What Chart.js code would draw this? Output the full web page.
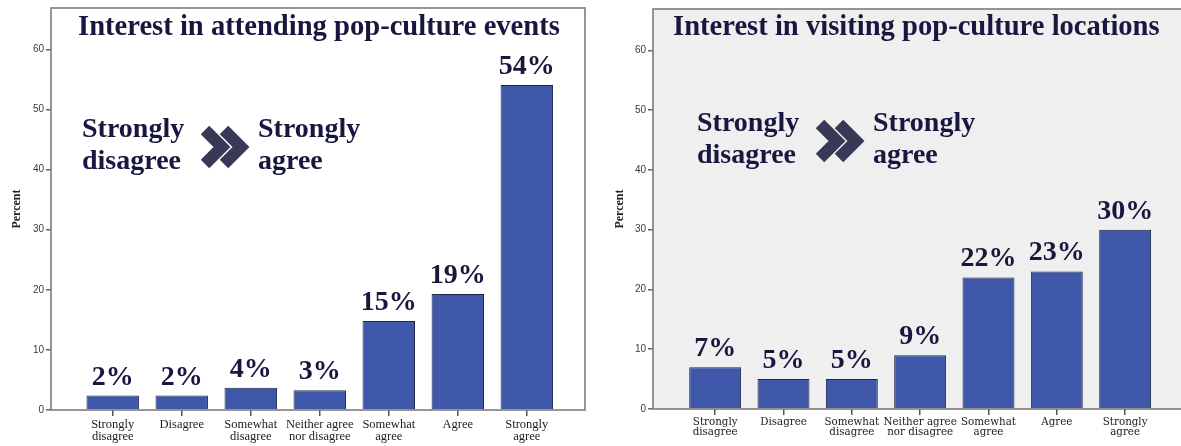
<!DOCTYPE html>
<html>
<head>
<meta charset="utf-8">
<script src="https://cdn.jsdelivr.net/npm/chart.js@4.4.1/dist/chart.umd.min.js"></script>
<style>
  html, body { margin: 0; padding: 0; background: #fff; overflow: hidden; width: 1181px; height: 446px; }
  .panel { position: absolute; top: 0; height: 446px; }
  #panelA { left: 0; width: 590px; }
  #panelB { left: 590px; width: 600px; }
</style>
</head>
<body>
<div class="panel" id="panelA"><canvas id="chartA"></canvas></div>
<div class="panel" id="panelB"><canvas id="chartB"></canvas></div>
<script>
// Answer categories, shared by both charts
const categories = [
  ['Strongly', 'disagree'], 'Disagree', ['Somewhat', 'disagree'],
  ['Neither agree', 'nor disagree'], ['Somewhat', 'agree'], 'Agree', ['Strongly', 'agree']
];
// Percent of respondents per answer
const eventsPercent = [2.4, 2.4, 3.7, 3.3, 14.8, 19.3, 54.1];
const locationsPercent = [7, 5, 5, 9, 22, 23, 30];
// Y axis tick values
const yTicks = [0, 10, 20, 30, 40, 50, 60];
const eventsTitle = 'Interest in attending pop-culture events';
const locationsTitle = 'Interest in visiting pop-culture locations';
const scaleFrom = ['Strongly', 'disagree'];
const scaleTo = ['Strongly', 'agree'];

const INK = '#17173f';
const BAR = '#3e57a9';

function drawChevron(ctx, x0, cy) {
  const a = 17;
  ctx.save();
  ctx.strokeStyle = '#373a57';
  ctx.lineWidth = 12;
  ctx.lineCap = 'butt';
  ctx.lineJoin = 'miter';
  ctx.beginPath();
  ctx.moveTo(x0, cy - a);
  ctx.lineTo(x0 + a, cy);
  ctx.lineTo(x0, cy + a);
  ctx.stroke();
  ctx.restore();
}

function makeChart(id, values, title, o) {
  const overlay = {
    id: 'overlay' + id,
    beforeDatasetsDraw(chart) {
      const { ctx, chartArea: c } = chart;
      ctx.save();
      ctx.fillStyle = o.plotBg;
      ctx.fillRect(c.left, c.top, c.right - c.left, c.bottom - c.top);
      ctx.restore();
    },
    afterDatasetsDraw(chart) {
      const { ctx, chartArea: c } = chart;
      ctx.save();
      ctx.strokeStyle = '#7c7c7c';
      ctx.lineWidth = 1.6;
      ctx.strokeRect(c.left, c.top, c.right - c.left, c.bottom - c.top);
      ctx.restore();
    },
    afterDraw(chart) {
      const ctx = chart.ctx;
      ctx.save();
      ctx.fillStyle = INK;
      ctx.textBaseline = 'alphabetic';
      ctx.textAlign = 'left';
      ctx.font = 'bold 28.6px "Liberation Serif", "Times New Roman", serif';
      ctx.fillText(title, o.titleX, o.titleY);
      ctx.font = 'bold 28px "Liberation Serif", "Times New Roman", serif';
      // scale legend: Strongly disagree >> Strongly agree
      ctx.fillText(scaleFrom[0], o.wordsX, o.wordsY);
      ctx.fillText(scaleFrom[1], o.wordsX, o.wordsY + 32);
      ctx.fillText(scaleTo[0], o.wordsX + 176, o.wordsY);
      ctx.fillText(scaleTo[1], o.wordsX + 176, o.wordsY + 32);
      drawChevron(ctx, o.wordsX + 123, o.wordsY + 10);
      drawChevron(ctx, o.wordsX + 142, o.wordsY + 10);
      // value labels above bars
      ctx.textAlign = 'center';
      const meta = chart.getDatasetMeta(0);
      meta.data.forEach((bar, i) => {
        ctx.fillText(Math.round(values[i]) + '%', bar.x, bar.y - 11);
      });
      ctx.restore();
    }
  };

  return new Chart(document.getElementById(id), {
    type: 'bar',
    data: {
      datasets: [{
        data: values.map((v, i) => ({ x: i, y: v })),
        backgroundColor: BAR,
        borderColor: '#1f2647',
        borderWidth: 1,
        barPercentage: 0.76,
        categoryPercentage: 1
      }]
    },
    options: {
      responsive: true,
      maintainAspectRatio: false,
      animation: false,
      events: [],
      layout: { padding: { top: o.top, right: o.right, left: 0, bottom: 0 } },
      plugins: { legend: { display: false }, tooltip: { enabled: false } },
      scales: {
        x: {
          type: 'linear',
          offset: false,
          min: o.xMin,
          max: o.xMax,
          afterBuildTicks: s => { s.ticks = categories.map((_, i) => ({ value: i })); },
          afterFit: s => { s.height = o.xHeight; },
          ticks: {
            autoSkip: false,
            maxRotation: 0,
            padding: o.xPad,
            color: '#222',
            font: o.xFont,
            callback: v => categories[Math.round(v)]
          },
          grid: { offset: false, drawOnChartArea: false, drawTicks: true, tickLength: 6, color: '#555', lineWidth: 1.5 },
          border: { display: false }
        },
        y: {
          min: 0,
          max: 66.9,
          afterBuildTicks: s => { s.ticks = yTicks.map(v => ({ value: v })); },
          afterFit: s => { s.width = o.yWidth; },
          ticks: {
            padding: 2,
            color: '#3a3a3a',
            font: { family: '"Liberation Sans", Arial, sans-serif', size: 10 }
          },
          grid: { drawOnChartArea: false, drawTicks: true, tickLength: 5, color: '#666', lineWidth: 1.5 },
          border: { display: false },
          title: {
            display: true,
            text: 'Percent',
            color: '#222',
            padding: { top: o.yTitlePad, bottom: 0 },
            font: { family: '"Liberation Serif", "Times New Roman", serif', size: 12, weight: 'bold' }
          }
        }
      }
    },
    plugins: [overlay]
  });
}

makeChart('chartA', eventsPercent, eventsTitle, {
  top: 8, right: 5, yWidth: 51, xHeight: 36, yTitlePad: 10,
  xMin: -0.894, xMax: 6.843, xPad: 3,
  plotBg: '#ffffff',
  xFont: { family: '"Liberation Serif", "Times New Roman", serif', size: 12.5, lineHeight: 0.95 },
  titleX: 78, titleY: 35,
  wordsX: 82, wordsY: 137
});

makeChart('chartB', locationsPercent, locationsTitle, {
  top: 9, right: 2, yWidth: 63, xHeight: 37, yTitlePad: 23,
  xMin: -0.91, xMax: 6.92, xPad: 2,
  plotBg: '#efefef',
  xFont: { family: '"DejaVu Serif", serif', size: 10.3, lineHeight: 1.0 },
  titleX: 83, titleY: 35,
  wordsX: 107, wordsY: 131
});
</script>
</body>
</html>
